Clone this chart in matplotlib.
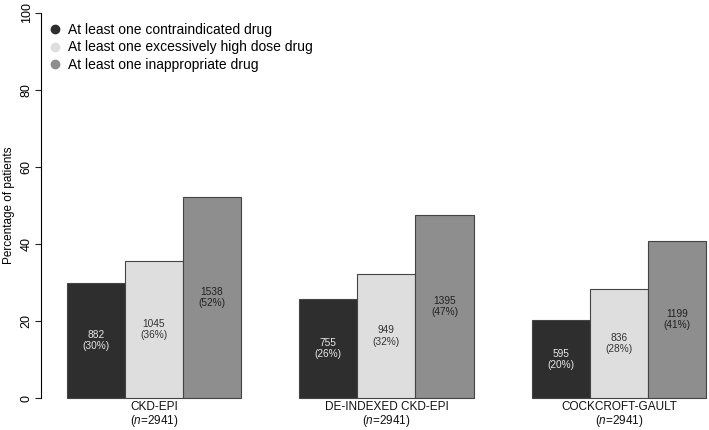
import matplotlib.pyplot as plt
from matplotlib.lines import Line2D

plt.rcParams["font.family"] = "Liberation Sans"
plt.rcParams["mathtext.fontset"] = "custom"
plt.rcParams["mathtext.rm"] = "Liberation Sans"
plt.rcParams["mathtext.it"] = "Liberation Sans:italic"

# data
groups = ["CKD-EPI", "DE-INDEXED CKD-EPI", "COCKCROFT-GAULT"]
group_n = [2941, 2941, 2941]
series = ["At least one contraindicated drug",
          "At least one excessively high dose drug",
          "At least one inappropriate drug"]
counts = [[882, 1045, 1538],
          [755, 949, 1395],
          [595, 836, 1199]]
percent = [[29.99, 35.53, 52.29],
           [25.67, 32.27, 47.43],
           [20.23, 28.43, 40.77]]
pct_labels = [["30%", "36%", "52%"],
              ["26%", "32%", "47%"],
              ["20%", "28%", "41%"]]

colors = ["#2e2e2e", "#dedede", "#8e8e8e"]
text_colors = ["#e8e8e8", "#333333", "#222222"]

fig = plt.figure(figsize=(7.09, 4.30), dpi=100)
ax = fig.add_axes([41.1 / 709, 1 - 413.7 / 430, 1 - 41.1 / 709, (413.7 + 2.7) / 430])

# R style: bars of width 1, one unit gap between groups
for g in range(len(groups)):
    for s in range(len(series)):
        x = g * 4 + s + 1.5
        h = percent[g][s]
        ax.bar(x, h, width=1.0, color=colors[s], edgecolor="#444444", linewidth=0.8)
        ax.text(x, h / 2, "%d\n(%s)" % (counts[g][s], pct_labels[g][s]),
                ha="center", va="center", fontsize=7.3, color=text_colors[s],
                linespacing=1.15)

ax.set_xlim(0.56, 12.05)
ax.set_ylim(-4, 104)

# group names under the bars
for g in range(len(groups)):
    ax.text(g * 4 + 2.5, -0.6, "%s\n($\\mathit{n}$=%d)" % (groups[g], group_n[g]),
            ha="center", va="top", fontsize=8.5, linespacing=1.0, color="#111111")
ax.set_xticks([])

ax.set_yticks([0, 20, 40, 60, 80, 100])
ax.set_yticklabels(["0", "20", "40", "60", "80", "100"], rotation=90, va="center")
ax.tick_params(axis="y", length=4, width=0.8, labelsize=9, pad=2, color="#222222")
for sp in ["top", "right", "bottom"]:
    ax.spines[sp].set_visible(False)
ax.spines["left"].set_bounds(0, 100)
ax.spines["left"].set_linewidth(0.8)
ax.set_ylabel("Percentage of patients", fontsize=8.5, labelpad=4)

handles = [Line2D([], [], linestyle="none", marker="o", markersize=6,
                  markerfacecolor=c, markeredgecolor=c) for c in colors]
fig.legend(handles, series, loc="upper left", bbox_to_anchor=(49 / 709, 1 - 23 / 430),
           frameon=False, fontsize=10, handlelength=0.9, handletextpad=0.5,
           labelspacing=0.25, borderpad=0, borderaxespad=0)

fig.savefig("out.png", dpi=100)
